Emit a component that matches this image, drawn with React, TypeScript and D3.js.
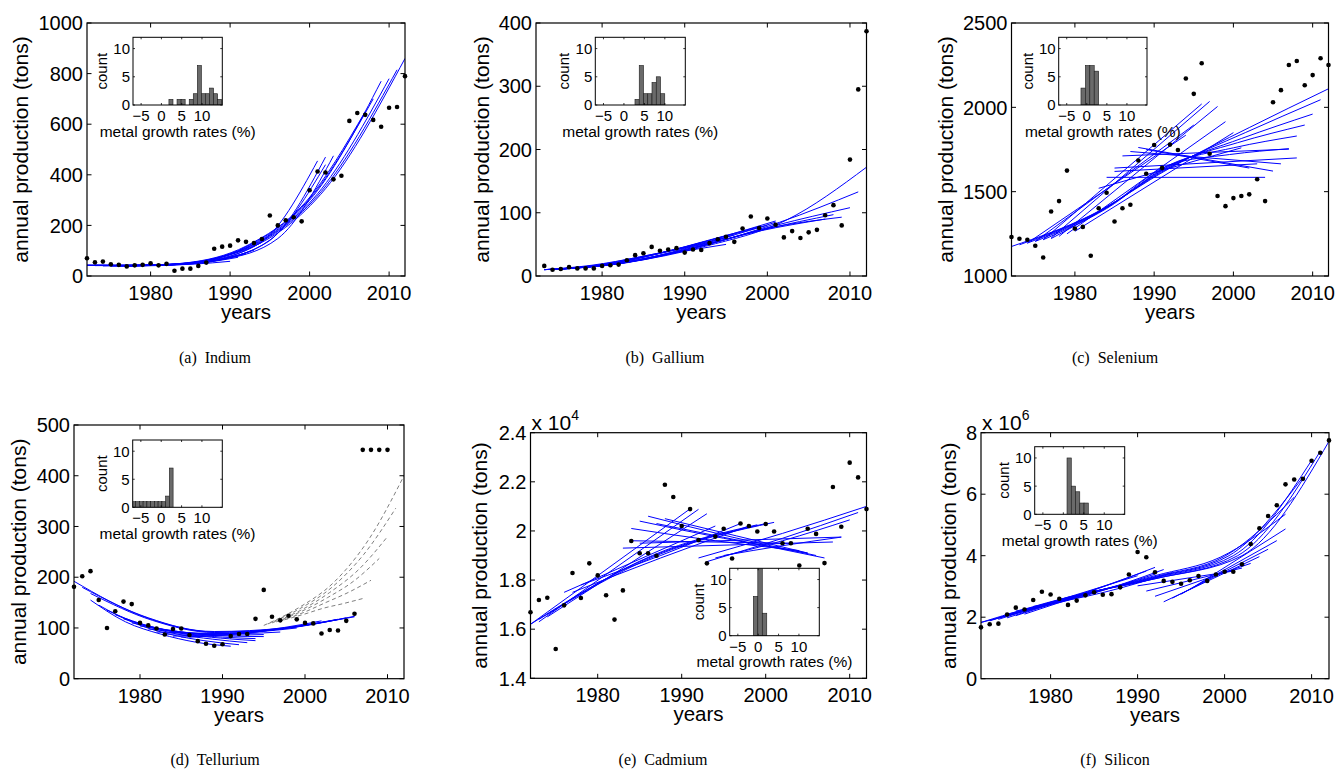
import React from "react";
import * as d3 from "d3";

// ---- data ----
const years72 = d3.range(1972, 2013);
const years73 = d3.range(1973, 2013);
const years72to10 = d3.range(1972, 2011);

const indiumProd = [70, 54, 57, 46, 44, 38, 42, 44, 50, 42, 48, 21, 29, 29, 40, 53, 108, 116, 120, 141, 135, 130, 146, 239, 200, 220, 232, 216, 339, 413, 409, 382, 396, 613, 644, 637, 617, 590, 665, 668, 790];
const galliumProd = [16, 10, 11, 14, 12, 12, 12, 16, 17, 18, 25, 33, 36, 46, 40, 42, 44, 37, 42, 41, 52, 58, 62, 54, 75, 94, 76, 91, 81, 61, 71, 60, 69, 73, 96, 112, 80, 184, 295, 387];
const seleniumProd = [1231, 1221, 1215, 1179, 1110, 1382, 1444, 1625, 1281, 1291, 1120, 1402, 1494, 1323, 1402, 1422, 1685, 1606, 1777, 1641, 1779, 1747, 2171, 2080, 2261, 1725, 1474, 1414, 1462, 1474, 1484, 1574, 1444, 2030, 2102, 2251, 2275, 2131, 2191, 2291, 2251];
const telluriumProd = [181, 202, 212, 155, 100, 133, 152, 147, 110, 105, 99, 87, 98, 99, 86, 74, 69, 65, 68, 84, 88, 88, 118, 175, 122, 115, 124, 117, 110, 109, 89, 96, 95, 114, 128, 451, 451, 451, 451];
// x 10^4 tons
const cadmiumProd = [1.669, 1.719, 1.728, 1.519, 1.697, 1.829, 1.727, 1.868, 1.819, 1.738, 1.639, 1.758, 1.959, 1.909, 1.909, 1.899, 2.188, 2.138, 2.02, 2.089, 1.963, 1.868, 1.977, 2.009, 1.888, 2.03, 2.02, 1.998, 2.028, 1.998, 1.95, 1.95, 1.859, 2.009, 1.988, 1.869, 2.179, 2.017, 2.278, 2.218, 2.089];
// x 10^6 tons
const siliconProd = [1.67, 1.77, 1.79, 2.09, 2.31, 2.25, 2.56, 2.83, 2.74, 2.6, 2.4, 2.54, 2.71, 2.81, 2.73, 2.75, 2.97, 3.39, 4.12, 3.95, 3.46, 3.18, 3.15, 3.09, 3.2, 3.34, 3.18, 3.39, 3.48, 3.48, 3.72, 4.38, 4.89, 5.29, 5.64, 6.32, 6.48, 6.5, 7.09, 7.35, 7.75];

// fitted curves: [fromYear, toYear, values at evenly spaced years ...]
const indiumFits = [
  [1972, 2012, 42, 45, 105, 345, 860],
  [1973, 2011, 42, 46, 108, 335, 815],
  [1974, 2010, 41, 47, 110, 325, 780],
  [1975, 2009, 40, 48, 112, 318, 770],
  [1976, 2008, 39, 50, 115, 305, 700],
  [1977, 2007, 38, 52, 118, 292, 650],
  [1972, 2001, 42, 42, 58, 130, 455],
  [1973, 2002, 41, 42, 60, 135, 470],
  [1974, 2002, 40, 43, 62, 142, 440],
  [1975, 2003, 39, 44, 65, 148, 475],
  [1972, 1990, 44, 41, 42, 47, 58],
  [1973, 1991, 43, 41, 43, 52, 74],
  [1974, 1992, 42, 41, 45, 57, 88],
  [1975, 1993, 41, 41, 47, 62, 102],
  [1976, 1994, 40, 41, 50, 72, 133],
];
const galliumFits = [
  [1973, 2012, 10, 21, 47, 88, 172],
  [1973, 2011, 10, 21, 47, 85, 133],
  [1974, 2010, 10, 21, 47, 80, 108],
  [1974, 2009, 10, 21, 46, 76, 93],
  [1975, 2008, 11, 22, 46, 74, 97],
  [1975, 2007, 11, 22, 45, 71, 90],
  [1973, 2001, 10, 18, 36, 60, 87],
  [1974, 2000, 10, 18, 36, 58, 80],
  [1975, 1999, 11, 19, 36, 57, 78],
  [1976, 2001, 12, 20, 38, 60, 85],
  [1973, 1996, 10, 17, 30, 46, 65],
  [1974, 1995, 10, 17, 30, 44, 60],
  [1975, 1994, 11, 17, 29, 42, 55],
  [1976, 1995, 12, 18, 29, 40, 50],
];
const seleniumFits = [
  [1972, 2012, 1175, 1360, 1640, 1880, 2110],
  [1973, 2011, 1185, 1370, 1645, 1850, 2045],
  [1974, 2010, 1195, 1380, 1650, 1815, 1960],
  [1975, 2009, 1205, 1390, 1655, 1790, 1895],
  [1976, 2008, 1215, 1400, 1660, 1760, 1830],
  [1977, 2007, 1222, 1420, 1660, 1720, 1755],
  [1974, 1994, 1195, 1835],
  [1975, 1995, 1205, 1895],
  [1976, 1996, 1215, 2020],
  [1977, 1997, 1225, 2035],
  [1978, 1998, 1235, 2005],
  [1979, 1999, 1250, 1915],
  [1980, 2000, 1265, 1850],
  [1983, 2001, 1520, 1760],
  [1984, 2004, 1585, 1585],
  [1985, 2003, 1620, 1665],
  [1986, 2007, 1712, 1752],
  [1987, 2006, 1738, 1665],
  [1988, 2005, 1762, 1622],
  [1989, 2002, 1750, 1640],
  [1985, 2008, 1640, 1700],
];
const telluriumFits = [
  [1972, 2006, 192, 122, 93, 100, 123],
  [1973, 2005, 180, 120, 92, 98, 120],
  [1974, 2004, 168, 115, 91, 97, 117],
  [1974, 1991, 155, 112, 88, 72, 64],
  [1975, 1992, 145, 110, 88, 75, 67],
  [1976, 1993, 135, 106, 88, 78, 71],
  [1977, 1994, 126, 103, 88, 80, 75],
  [1978, 1994, 118, 100, 88, 82, 79],
  [1979, 1995, 110, 97, 88, 84, 83],
  [1980, 1995, 104, 95, 88, 86, 87],
  [1981, 1997, 98, 92, 88, 89, 92],
  [1982, 1999, 92, 90, 89, 93, 100],
  [1983, 2001, 88, 88, 90, 97, 108],
  [1984, 2002, 84, 87, 92, 101, 114],
  [1985, 2004, 82, 86, 93, 104, 117],
  [1986, 2006, 82, 87, 96, 108, 122],
];
const telluriumProjections = [
  [1995, 2012, 105, 140, 190, 275, 400],
  [1995.5, 2011, 108, 138, 180, 245, 336],
  [1996, 2010, 110, 135, 170, 215, 280],
  [1996.5, 2009, 112, 133, 160, 192, 237],
  [1997, 2008, 114, 130, 150, 170, 194],
  [1997.5, 2007, 116, 127, 139, 148, 158],
];
const cadmiumFits = [
  [1972, 1991, 1.62, 2.09],
  [1973, 1992, 1.63, 2.088],
  [1974, 1993, 1.65, 2.07],
  [1976, 1994, 1.75, 2.02],
  [1972, 2000, 1.62, 1.89, 2.03],
  [1973, 2001, 1.64, 1.9, 2.035],
  [1974, 1999, 1.66, 1.9, 2.025],
  [1977, 1998, 1.75, 1.89, 2.02],
  [1978, 1997, 1.78, 1.9, 2.03],
  [1985, 2005, 2.04, 1.97, 1.91],
  [1986, 2006, 2.06, 1.975, 1.9],
  [1987, 2007, 2.03, 1.96, 1.89],
  [1984, 2004, 2.01, 1.96, 1.92],
  [1988, 2005, 2.05, 1.98, 1.91],
  [1983, 2008, 1.93, 1.955],
  [1984, 2003, 1.96, 1.95],
  [1985, 2009, 1.95, 1.975],
  [1992, 2012, 1.89, 1.99, 2.1],
  [1993, 2011, 1.875, 1.97, 2.075],
  [1994, 2010, 1.89, 1.96, 2.045],
  [1995, 2009, 1.9, 1.94, 1.975],
];
const siliconFits = [
  [1972, 2012, 1.83, 2.65, 3.25, 4.0, 7.72],
  [1973, 2011, 1.88, 2.68, 3.25, 4.0, 7.4],
  [1974, 2010, 1.93, 2.7, 3.28, 4.0, 7.1],
  [1975, 2009, 1.98, 2.72, 3.3, 4.0, 6.55],
  [1976, 2008, 2.05, 2.75, 3.32, 3.98, 5.9],
  [1977, 2007, 2.1, 2.78, 3.35, 3.95, 5.35],
  [1972, 1992, 1.83, 2.6, 3.62],
  [1973, 1991, 1.9, 2.62, 3.5],
  [1974, 1990, 1.98, 2.65, 3.35],
  [1975, 1993, 2.1, 2.7, 3.55],
  [1976, 1992, 2.2, 2.72, 3.4],
  [1978, 1994, 2.35, 2.8, 3.45],
  [1991, 2002, 2.85, 3.6],
  [1992, 2003, 2.68, 3.75],
  [1993, 2004, 2.5, 3.97],
  [1994, 2005, 2.62, 4.21],
  [1995, 2006, 2.75, 4.49],
  [1996, 2007, 2.9, 4.87],
  [1990, 2001, 3.02, 3.5],
];

// growth-rate histograms: first bin edge, bin width, counts
const indiumHist = [1.85, 1.0];
const indiumCounts = [1, 0, 1, 1, 0, 1, 2, 7, 2, 2, 3, 2, 1];
const galliumHist = [2.7, 1.04];
const galliumCounts = [1, 7, 2, 2, 4, 5, 2];
const seleniumHist = [-1.45, 1.1];
const seleniumCounts = [3, 7, 7, 6];
const telluriumHist = [-7.2, 0.92];
const telluriumCounts = [1, 1, 1, 1, 1, 1, 1, 1, 1, 2, 7];
const cadmiumHist = [-1.2, 1.1];
const cadmiumCounts = [7, 13, 4];
const siliconHist = [0.9, 1.04];
const siliconCounts = [10, 5, 4, 2, 2];

const xTicks = [1980, 1990, 2000, 2010];
const histXTicks = [-5, 0, 5, 10];
const histYTicks = [0, 5, 10];

// ---- layout ----
const SANS = "'Liberation Sans', Arial, Helvetica, sans-serif";
const SERIF = "'Liberation Serif', 'Times New Roman', serif";

const panels = [
  {
    id: "a", caption: "(a)  Indium", years: years72, prod: indiumProd, fits: indiumFits, dashed: [],
    hist: indiumHist, counts: indiumCounts, yDomain: [0, 1000], yTicks: d3.range(0, 1001, 200), exp: null,
    box: [87, 405, 23, 276], inset: [133, 222.3, 37.3, 105], labX: 27.6, capX: 215, capY: 363,
  },
  {
    id: "b", caption: "(b)  Gallium", years: years73, prod: galliumProd, fits: galliumFits, dashed: [],
    hist: galliumHist, counts: galliumCounts, yDomain: [0, 400], yTicks: d3.range(0, 401, 100), exp: null,
    box: [536, 866.5, 23, 276], inset: [595.3, 685.3, 37.3, 105], labX: 488.6, capX: 665, capY: 363,
  },
  {
    id: "c", caption: "(c)  Selenium", years: years72, prod: seleniumProd, fits: seleniumFits, dashed: [],
    hist: seleniumHist, counts: seleniumCounts, yDomain: [1000, 2500], yTicks: d3.range(1000, 2501, 500), exp: null,
    box: [1011.5, 1328.5, 23, 276], inset: [1058.7, 1147, 37.3, 105], labX: 952.6, capX: 1115, capY: 363,
  },
  {
    id: "d", caption: "(d)  Tellurium", years: years72to10, prod: telluriumProd, fits: telluriumFits, dashed: telluriumProjections,
    hist: telluriumHist, counts: telluriumCounts, yDomain: [0, 500], yTicks: d3.range(0, 501, 100), exp: null,
    box: [74, 404, 425, 678.7], inset: [132.7, 222.3, 440, 507.3], labX: 25.6, capX: 215, capY: 765,
  },
  {
    id: "e", caption: "(e)  Cadmium", years: years72, prod: cadmiumProd, fits: cadmiumFits, dashed: [],
    hist: cadmiumHist, counts: cadmiumCounts, yDomain: [1.4, 2.4], yTicks: [1.4, 1.6, 1.8, 2.0, 2.2, 2.4], exp: "4",
    box: [530.5, 866.5, 432.7, 678.3], inset: [729.7, 819.3, 568.3, 635.7], labX: 486.6, capX: 663, capY: 765,
  },
  {
    id: "f", caption: "(f)  Silicon", years: years72, prod: siliconProd, fits: siliconFits, dashed: [],
    hist: siliconHist, counts: siliconCounts, yDomain: [0, 8], yTicks: [0, 2, 4, 6, 8], exp: "6",
    box: [981, 1329, 432.7, 678.7], inset: [1034.7, 1124.7, 446.7, 514.3], labX: 955.8, capX: 1115, capY: 765,
  },
];

const fmt = (v: number) => String(+v.toFixed(1));
const minus = (v: number) => (v < 0 ? "\u2212" + Math.abs(v) : String(v));

function fitPoints(f: number[]): [number, number][] {
  const [t0, t1, ...vals] = f;
  return vals.map((v, i) => [t0 + ((t1 - t0) * i) / (vals.length - 1), v]);
}

function Inset({ p }: { p: any }) {
  const [ix0, ix1, iy0, iy1] = p.inset;
  const hx = d3.scaleLinear().domain([-7, 15]).range([ix0, ix1]);
  const hy = d3.scaleLinear().domain([0, 12]).range([iy1, iy0]);
  const [start, w] = p.hist;
  const clip = `inset-${p.id}`;
  const fs = 15;
  return (
    <g>
      <clipPath id={clip}>
        <rect x={ix0} y={iy0} width={ix1 - ix0} height={iy1 - iy0} />
      </clipPath>
      <rect x={ix0} y={iy0} width={ix1 - ix0} height={iy1 - iy0} fill="#fff" />
      <g clipPath={`url(#${clip})`}>
        {p.counts.map((c: number, i: number) =>
          c > 0 ? (
            <rect
              key={i}
              x={hx(start + i * w)}
              width={hx(start + (i + 1) * w) - hx(start + i * w)}
              y={hy(c)}
              height={hy(0) - hy(c)}
              fill="#6a6a6a"
              stroke="#1a1a1a"
              strokeWidth={0.6}
            />
          ) : null
        )}
      </g>
      <rect x={ix0} y={iy0} width={ix1 - ix0} height={iy1 - iy0} fill="none" stroke="#000" strokeWidth={1} />
      {histXTicks.map((t) => (
        <g key={"hx" + t}>
          <line x1={hx(t)} x2={hx(t)} y1={iy1} y2={iy1 - 2} stroke="#000" strokeWidth={0.8} />
          <line x1={hx(t)} x2={hx(t)} y1={iy0} y2={iy0 + 2} stroke="#000" strokeWidth={0.8} />
          <text x={hx(t)} y={iy1 + 16} textAnchor="middle" fontSize={fs} fontFamily={SANS}>
            {minus(t)}
          </text>
        </g>
      ))}
      {histYTicks.map((t) => (
        <g key={"hy" + t}>
          <line x1={ix0} x2={ix0 + 2} y1={hy(t)} y2={hy(t)} stroke="#000" strokeWidth={0.8} />
          <line x1={ix1} x2={ix1 - 2} y1={hy(t)} y2={hy(t)} stroke="#000" strokeWidth={0.8} />
          <text x={ix0 - 3} y={hy(t)} dy="0.36em" textAnchor="end" fontSize={fs} fontFamily={SANS}>
            {t}
          </text>
        </g>
      ))}
      <text
        transform={`translate(${ix0 - 26},${(iy0 + iy1) / 2}) rotate(-90)`}
        textAnchor="middle"
        fontSize={fs}
        fontFamily={SANS}
      >
        count
      </text>
      <text x={(ix0 + ix1) / 2} y={iy1 + 31.5} textAnchor="middle" fontSize={fs + 0.5} fontFamily={SANS}>
        metal growth rates (%)
      </text>
    </g>
  );
}

function Panel({ p }: { p: any }) {
  const [x0, x1, y0, y1] = p.box;
  const x = d3.scaleLinear().domain([1972, 2012]).range([x0, x1]);
  const y = d3.scaleLinear().domain(p.yDomain).range([y1, y0]);
  const line = d3
    .line<[number, number]>()
    .x((d) => x(d[0]))
    .y((d) => y(d[1]))
    .curve(d3.curveMonotoneX);
  const clip = `plot-${p.id}`;
  const tick = 4.5;
  return (
    <g>
      <clipPath id={clip}>
        <rect x={x0} y={y0} width={x1 - x0} height={y1 - y0} />
      </clipPath>
      <g clipPath={`url(#${clip})`}>
        {p.dashed.map((f: number[], i: number) => (
          <path key={"d" + i} d={line(fitPoints(f)) || ""} fill="none" stroke="#7f7f7f" strokeWidth={1} strokeDasharray="4,3" />
        ))}
        {p.fits.map((f: number[], i: number) => (
          <path key={"f" + i} d={line(fitPoints(f)) || ""} fill="none" stroke="#0000ff" strokeWidth={1} />
        ))}
      </g>
      {p.prod.map((v: number, i: number) => (
        <circle key={"p" + i} cx={x(p.years[i])} cy={y(v)} r={2.3} fill="#000" />
      ))}
      <rect x={x0} y={y0} width={x1 - x0} height={y1 - y0} fill="none" stroke="#000" strokeWidth={1.2} />
      {xTicks.map((t) => (
        <g key={"xt" + t}>
          <line x1={x(t)} x2={x(t)} y1={y1} y2={y1 - tick} stroke="#000" />
          <line x1={x(t)} x2={x(t)} y1={y0} y2={y0 + tick} stroke="#000" />
          <text x={x(t)} y={y1 + 24} textAnchor="middle" fontSize={20} fontFamily={SANS}>
            {t}
          </text>
        </g>
      ))}
      {p.yTicks.map((t: number) => (
        <g key={"yt" + t}>
          <line x1={x0} x2={x0 + tick} y1={y(t)} y2={y(t)} stroke="#000" />
          <line x1={x1} x2={x1 - tick} y1={y(t)} y2={y(t)} stroke="#000" />
          <text x={x0 - 4} y={y(t)} dy="0.36em" textAnchor="end" fontSize={20} fontFamily={SANS}>
            {fmt(t)}
          </text>
        </g>
      ))}
      {p.exp && (
        <text x={x0 + 1} y={y0 - 2.5} fontSize={21} fontFamily={SANS}>
          x 10
          <tspan fontSize={14} dy={-10}>
            {p.exp}
          </tspan>
        </text>
      )}
      <text
        transform={`translate(${p.labX},${(y0 + y1) / 2}) rotate(-90)`}
        textAnchor="middle"
        fontSize={21}
        fontFamily={SANS}
      >
        annual production (tons)
      </text>
      <text x={(x0 + x1) / 2} y={y1 + 43} textAnchor="middle" fontSize={20.5} fontFamily={SANS}>
        years
      </text>
      <Inset p={p} />
      <text x={p.capX} y={p.capY} textAnchor="middle" fontSize={16} fontFamily={SERIF} xmlSpace="preserve">
        {p.caption}
      </text>
    </g>
  );
}

export default function App() {
  return (
    <svg
      width={1338}
      height={773}
      viewBox="0 0 1338 773"
      style={{ position: "absolute", left: 0, top: 0, background: "#fff" }}
    >
      <rect width={1338} height={773} fill="#fff" />
      {panels.map((p) => (
        <Panel key={p.id} p={p} />
      ))}
    </svg>
  );
}
